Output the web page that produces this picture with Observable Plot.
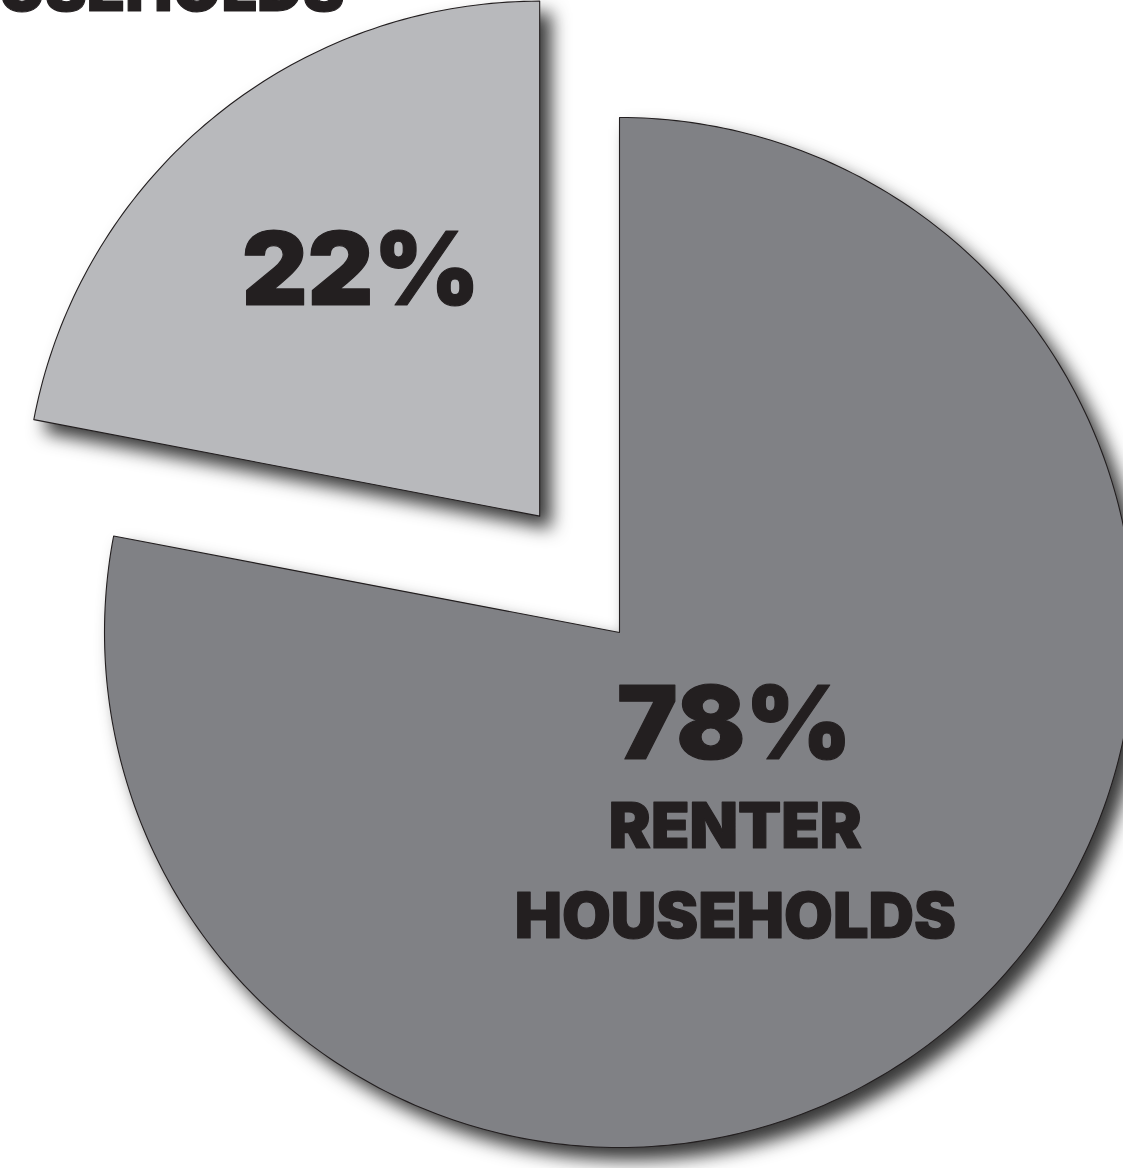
<!DOCTYPE html>
<html>
<head>
<meta charset="utf-8">
<script src="https://cdn.jsdelivr.net/npm/d3@7"></script>
<script src="https://cdn.jsdelivr.net/npm/@observablehq/plot@0.6"></script>
<style>
  html, body { margin: 0; padding: 0; background: #ffffff; overflow: hidden; }
  #chart svg { display: block; overflow: visible; }
</style>
</head>
<body>
<div id="chart"></div>
<script>
// ---- data ----
const categories = ["Renter households", "Owner households"];
const shares = [78, 22];
const pctLabels = ["78%", "22%"];
const nameLines = [["RENTER", "HOUSEHOLDS"], []];
const sliceColors = ["#808185", "#b8b9bc"];
const exploded = [false, true];
const outsideLabel = "HOUSEHOLDS";

// ---- layout ----
const W = 1123, H = 1168;
const R = 515;            // pie radius in px
const cx = 619, cy = 632; // pie centre in px
const explodeDist = 0.274;  // in radius units
const explodeTilt = 0.09;   // radians added to the slice mid-angle
const ink = "#231f20";
const font = "Inter, Lato, sans-serif";

// build slice polygons from the data
const total = d3.sum(shares);
const slices = [];
let a0 = 0;
shares.forEach((v, i) => {
  const a1 = a0 + (v / total) * 2 * Math.PI;
  const mid = (a0 + a1) / 2;
  const ox = exploded[i] ? Math.sin(mid + explodeTilt) * explodeDist : 0;
  const oy = exploded[i] ? Math.cos(mid + explodeTilt) * explodeDist : 0;
  const pts = [{cat: categories[i], x: ox, y: oy}];
  const n = Math.max(20, Math.round((a1 - a0) / (2 * Math.PI) * 400));
  for (let k = 0; k <= n; k++) {
    const a = a0 + (a1 - a0) * k / n;
    pts.push({cat: categories[i], x: ox + Math.sin(a), y: oy + Math.cos(a)});
  }
  slices.push({cat: categories[i], i, pts, mid, ox, oy});
  a0 = a1;
});

// label anchors derived from slice geometry
const labelR = [0.353, 0.56];
const labels = slices.map((s, i) => ({
  cat: s.cat, i,
  x: s.ox + Math.sin(s.mid) * labelR[i],
  y: s.oy + Math.cos(s.mid) * labelR[i]
}));

const marks = [];
slices.forEach((s, i) => {
  marks.push(Plot.line(s.pts, {
    x: "x", y: "y", fill: sliceColors[i], stroke: ink, strokeWidth: 1.1,
    curve: "linear-closed"
  }));
});

const textStyle = {fill: ink, fontFamily: font, fontWeight: 900, stroke: ink, strokeWidth: 1.2};

// percentage labels
marks.push(Plot.text([labels[0]], {
  x: "x", y: "y", text: d => pctLabels[d.i], fontSize: 102, dy: -46, dx: -1, ...textStyle
}));
marks.push(Plot.text([labels[1]], {
  x: "x", y: "y", text: d => pctLabels[d.i], fontSize: 102, dy: -22, dx: 5, ...textStyle
}));
// name lines for renter
nameLines[0].forEach((line, j) => {
  marks.push(Plot.text([labels[0]], {
    x: "x", y: "y", text: () => line, fontSize: 63, dy: 55 + j * 90, ...textStyle
  }));
});
// cropped outside label (top-left)
marks.push(Plot.text([outsideLabel], {
  frameAnchor: "top-left", text: d => d, textAnchor: "end", lineAnchor: "middle",
  fontSize: 63, dx: 344, dy: -10, ...textStyle
}));

const plot = Plot.plot({
  width: W, height: H,
  margin: 0,
  x: {domain: [-cx / R, (W - cx) / R], axis: null},
  y: {domain: [-(H - cy) / R, cy / R], axis: null},
  marks
});

d3.select(plot).selectAll('g[aria-label="line"] path')
  .style("filter", "drop-shadow(11px 12px 9px rgba(20,20,20,0.85))");

document.getElementById("chart").appendChild(plot);
</script>
</body>
</html>
